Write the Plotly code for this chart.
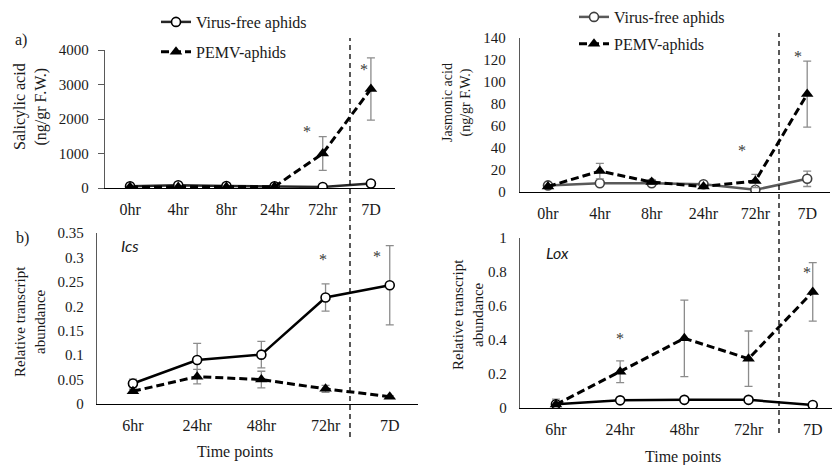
import plotly.graph_objects as go

# ---------------- data ----------------
hours_top = ["0hr", "4hr", "8hr", "24hr", "72hr", "7D"]
hours_bot = ["6hr", "24hr", "48hr", "72hr", "7D"]

sa_free = [50, 80, 60, 50, 30, 130]
sa_free_err = [10, 10, 10, 10, 10, 20]
sa_pemv = [30, 30, 30, 40, 1000, 2870]
sa_pemv_err = [10, 10, 10, 10, 490, 900]

ja_free = [6, 8, 8, 7, 2, 12]
ja_free_err = [1, 1, 1, 1, 1, 7]
ja_pemv = [5, 19, 9, 5, 10, 89]
ja_pemv_err = [1, 7, 2, 1, 6, 30]

ics_free = [0.042, 0.090, 0.101, 0.218, 0.243]
ics_free_err = [0.009, 0.034, 0.027, 0.028, 0.081]
ics_pemv = [0.026, 0.056, 0.050, 0.031, 0.015]
ics_pemv_err = [0.004, 0.015, 0.017, 0.007, 0.002]

lox_free = [0.022, 0.045, 0.048, 0.048, 0.018]
lox_free_err = [0.03, 0.005, 0.005, 0.005, 0.004]
lox_pemv = [0.020, 0.213, 0.410, 0.290, 0.683]
lox_pemv_err = [0.01, 0.064, 0.225, 0.163, 0.172]

W, H = 833, 465
SERIF = "Liberation Serif"
GRAY_ERR = "#8c8c8c"
TXT = "#1a1a1a"


def px(x):
    return x / W


def py(y):
    return 1 - y / H


fig = go.Figure()


def add_pair(xa, ya, cats, free, free_err, pemv, pemv_err, free_color, mk_color, legend, show):
    xs = list(range(len(cats)))
    fig.add_trace(go.Scatter(
        x=xs, y=free, name="Virus-free aphids", mode="lines+markers",
        line=dict(color=free_color, width=2.5),
        marker=dict(symbol="circle", size=9, color="white", line=dict(color=mk_color, width=1.6)),
        error_y=dict(type="data", array=free_err, color=GRAY_ERR, thickness=1.3, width=4),
        xaxis=xa, yaxis=ya, showlegend=show, legend=legend, legendgroup=legend + "a"))
    fig.add_trace(go.Scatter(
        x=xs, y=pemv, name="PEMV-aphids", mode="lines+markers",
        line=dict(color="black", width=3, dash="8px,4px"),
        marker=dict(symbol="triangle-up", size=11, color="black"),
        error_y=dict(type="data", array=pemv_err, color=GRAY_ERR, thickness=1.3, width=4),
        xaxis=xa, yaxis=ya, showlegend=show, legend=legend, legendgroup=legend + "b"))


add_pair("x", "y", hours_top, sa_free, sa_free_err, sa_pemv, sa_pemv_err, "#262626", "#000000", "legend", True)
add_pair("x2", "y2", hours_top, ja_free, ja_free_err, ja_pemv, ja_pemv_err, "#595959", "#404040", "legend2", True)
add_pair("x3", "y3", hours_bot, ics_free, ics_free_err, ics_pemv, ics_pemv_err, "#000000", "#000000", "legend", False)
add_pair("x4", "y4", hours_bot, lox_free, lox_free_err, lox_pemv, lox_pemv_err, "#000000", "#000000", "legend", False)

tickfont = dict(family=SERIF, size=15, color=TXT)


def xaxis(dom, rng, cats, anchor):
    return dict(domain=dom, range=rng, tickvals=list(range(len(cats))), ticktext=cats,
                showline=True, linecolor="black", linewidth=1.3, showgrid=False, zeroline=False,
                ticks="outside", ticklen=7, tickcolor="rgba(0,0,0,0)",
                tickfont=dict(family=SERIF, size=16, color=TXT),
                anchor=anchor, fixedrange=True, automargin=False)


def yaxis(dom, rng, dtick, anchor, ticks="", standoff=8):
    return dict(domain=dom, range=rng, dtick=dtick, showline=True, linecolor="#595959", linewidth=1.3,
                showgrid=False, zeroline=False, ticks=ticks, ticklen=6, tickcolor="#595959",
                tickfont=tickfont, anchor=anchor, ticklabelstandoff=standoff, automargin=False,
                fixedrange=True)


fig.update_layout(
    width=W, height=H, margin=dict(l=0, r=0, t=0, b=0, pad=0, autoexpand=False),
    paper_bgcolor="white", plot_bgcolor="rgba(0,0,0,0)",
    xaxis=xaxis([px(105), px(395)], [-0.52, 5.5], hours_top, "y"),
    yaxis=yaxis([py(188), py(50)], [0, 4000], 1000, "x", ticks="outside", standoff=6),
    xaxis2=xaxis([px(520), px(830)], [-0.54, 5.44], hours_top, "y2"),
    yaxis2=yaxis([py(192), py(38)], [0, 140], 20, "x2", standoff=10),
    xaxis3=xaxis([px(97), px(418)], [-0.56, 4.44], hours_bot, "y3"),
    yaxis3=yaxis([py(404), py(233)], [0, 0.35], 0.05, "x3", standoff=9),
    xaxis4=xaxis([px(520), px(832)], [-0.56, 4.3], hours_bot, "y4"),
    yaxis4=yaxis([py(408), py(238)], [0, 1], 0.2, "x4", standoff=9),
    legend=dict(x=px(156), y=py(5), xanchor="left", yanchor="top", bgcolor="rgba(0,0,0,0)",
                font=dict(family=SERIF, size=16, color=TXT), traceorder="grouped",
                tracegroupgap=6, itemwidth=30),
    legend2=dict(x=px(574), y=py(0), xanchor="left", yanchor="top", bgcolor="rgba(0,0,0,0)",
                 font=dict(family=SERIF, size=16, color=TXT), traceorder="grouped",
                 tracegroupgap=3, itemwidth=30),
    showlegend=True,
)

# vertical dashed separators
for x0, y0, y1 in [(350, 38, 437), (779, 33, 433)]:
    fig.add_shape(type="line", xref="paper", yref="paper", x0=px(x0), x1=px(x0), y0=py(y1), y1=py(y0),
                  line=dict(color="black", width=1.3, dash="5px,4px"))

ann = []
# significance asterisks (data coords)
for xr, yr, xv, yv in [("x", "y", 3.67, 1640), ("x", "y", 4.85, 3440),
                       ("x2", "y2", 3.75, 38), ("x2", "y2", 4.83, 123),
                       ("x3", "y3", 2.96, 0.295), ("x3", "y3", 3.8, 0.302),
                       ("x4", "y4", 1.0, 0.41), ("x4", "y4", 3.91, 0.80)]:
    ann.append(dict(text="*", x=xv, y=yv, xref=xr, yref=yr, showarrow=False,
                    xanchor="center", yanchor="middle",
                    font=dict(family=SERIF, size=16, color="#3a3a3a")))


def pann(text, x, y, size=16, family=SERIF, angle=0):
    return dict(text=text, x=px(x), y=py(y), xref="paper", yref="paper", showarrow=False,
                xanchor="center", yanchor="middle", textangle=angle,
                font=dict(family=family, size=size, color=TXT))


ann += [
    pann("a)", 21, 40),
    pann("b)", 22, 238),
    pann("<i>Ics</i>", 130, 245, family="Lato"),
    pann("<i>Lox</i>", 557, 252, family="Lato"),
    pann("Salicylic acid<br>(ng/gr F.W.)", 30, 107, size=16, angle=-90),
    pann("Jasmonic acid<br>(ng/gr F.W.)", 457, 103, size=14, angle=-90),
    pann("Relative transcript<br>abundance", 30, 322, size=15, angle=-90),
    pann("Relative transcript<br>abundance", 468, 315, size=15, angle=-90),
    pann("Time points", 235, 452),
    pann("Time points", 683, 457),
]
fig.update_layout(annotations=ann)

fig.write_html("out.html", config={"displayModeBar": False},
               post_script="document.body.style.margin='0';document.body.style.overflow='hidden';")
